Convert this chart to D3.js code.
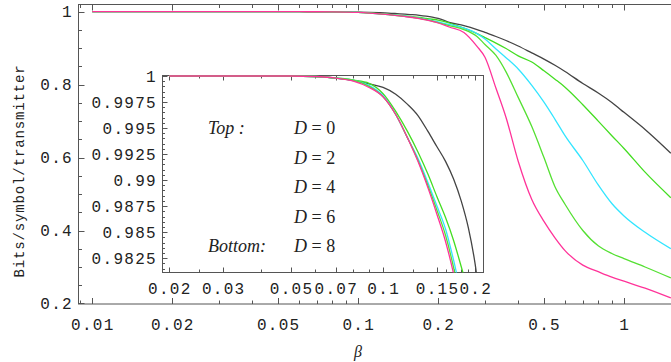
<!DOCTYPE html>
<html>
<head>
<meta charset="utf-8">
<script src="https://cdn.jsdelivr.net/npm/d3@7"></script>
<style>
  body { margin: 0; background: #fff; }
  svg { display: block; }
  .tick-label { font-family: "Liberation Mono", monospace; font-size: 16px; letter-spacing: 1.3px; fill: #222; }
  .legend { font-family: "Liberation Serif", serif; font-size: 18px; fill: #222; }
</style>
</head>
<body>
<div id="chart"></div>
<script>
// beta values where the curves were sampled
const beta = [0.01, 0.02, 0.03, 0.04, 0.05, 0.06, 0.07, 0.08, 0.09, 0.1,
  0.11, 0.12, 0.13, 0.14, 0.15, 0.16, 0.17, 0.18, 0.19, 0.2,
  0.22, 0.25, 0.28, 0.3, 0.33, 0.36, 0.4, 0.45, 0.5, 0.55,
  0.6, 0.7, 0.8, 0.9, 1.0, 1.2, 1.5]

// bits/symbol/transmitter for each D
const d0 = [1, 1, 1, 1, 1, 0.99995, 0.9998, 0.99955, 0.99925, 0.9989,
  0.99825, 0.9973, 0.9962, 0.9947, 0.9932, 0.9918, 0.9901, 0.988, 0.9854, 0.9819,
  0.971, 0.962, 0.951, 0.943, 0.932, 0.921, 0.906, 0.887, 0.87, 0.853,
  0.836, 0.803, 0.777, 0.751, 0.724, 0.677, 0.612]
const d2 = [1, 1, 1, 1, 1, 0.99995, 0.9998, 0.9996, 0.9993, 0.9983,
  0.9966, 0.9947, 0.9927, 0.9906, 0.9884, 0.9864, 0.9842, 0.9817, 0.9793, 0.9769,
  0.969, 0.955, 0.94, 0.929, 0.914, 0.899, 0.879, 0.862, 0.838, 0.815,
  0.793, 0.745, 0.7, 0.66, 0.625, 0.56, 0.49]
const d4 = [1, 1, 1, 1, 1, 0.99995, 0.9998, 0.9996, 0.9991, 0.9981,
  0.9963, 0.9941, 0.9921, 0.9898, 0.9875, 0.9853, 0.9823, 0.979, 0.9758, 0.9722,
  0.965, 0.955, 0.94, 0.925, 0.898, 0.874, 0.843, 0.798, 0.752, 0.705,
  0.66, 0.592, 0.525, 0.474, 0.44, 0.395, 0.35]
const d6 = [1, 1, 1, 1, 1, 0.99995, 0.9998, 0.9996, 0.999, 0.998,
  0.9963, 0.9941, 0.9919, 0.9895, 0.9871, 0.9847, 0.9816, 0.978, 0.9745, 0.97,
  0.962, 0.951, 0.932, 0.91, 0.88, 0.835, 0.765, 0.685, 0.6, 0.52,
  0.472, 0.4, 0.358, 0.337, 0.323, 0.3, 0.27]
const d8 = [1, 1, 1, 1, 1, 0.99995, 0.9998, 0.9995, 0.9989, 0.998,
  0.9963, 0.9941, 0.9918, 0.9893, 0.9867, 0.9841, 0.981, 0.9775, 0.9735, 0.969,
  0.958, 0.943, 0.905, 0.875, 0.79, 0.71, 0.59, 0.485, 0.425, 0.38,
  0.345, 0.305, 0.287, 0.272, 0.261, 0.242, 0.215]

const seriesNames = ['D0', 'D2', 'D4', 'D6', 'D8']
const seriesValues = [d0, d2, d4, d6, d8]
const colors = ['#444444', '#44dd22', '#33e5ff', '#55e033', '#ff3399']

// ticks
const xMajor = [0.01, 0.02, 0.05, 0.1, 0.2, 0.5, 1]
const xMinor = [0.009, 0.03, 0.04, 0.06, 0.07, 0.08, 0.09, 0.3, 0.4, 0.6, 0.7, 0.8, 0.9]
const yMajor = [0.2, 0.4, 0.6, 0.8, 1]
const insetXMajor = [0.02, 0.03, 0.05, 0.07, 0.1, 0.15, 0.2]
const insetXMinor = [0.025, 0.04, 0.06, 0.08, 0.09, 0.125, 0.16, 0.17, 0.18, 0.19]
const insetYMajor = [0.9825, 0.985, 0.9875, 0.99, 0.9925, 0.995, 0.9975, 1]
const legendLabels = ['D = 0', 'D = 2', 'D = 4', 'D = 6', 'D = 8']

const width = 671
const height = 362

const svg = d3.select('#chart').append('svg')
  .attr('width', width)
  .attr('height', height)

// main scales
const x = d3.scaleLog().domain([0.00888, 1.624]).range([78.5, 680])
const y = d3.scaleLinear().domain([0.1985, 1.0211]).range([304, 4])

// inset scales
const xi = d3.scaleLog().domain([0.01902, 0.2129]).range([162.5, 483.5])
const yi = d3.scaleLinear().domain([0.98112, 1]).range([272.5, 76])

const frameColor = '#555'

svg.append('clipPath').attr('id', 'mainClip')
  .append('rect').attr('x', 78.5).attr('y', 4).attr('width', 680 - 78.5).attr('height', 300)
svg.append('clipPath').attr('id', 'insetClip')
  .append('rect').attr('x', 162.5).attr('y', 75).attr('width', 321).attr('height', 197.5)

// main frame
svg.append('rect')
  .attr('x', 78.5).attr('y', 4.5)
  .attr('width', 700).attr('height', 299.5)
  .attr('fill', 'none').attr('stroke', frameColor)

function drawTicks(g, scale, vals, len, orient, pos) {
  vals.forEach(v => {
    const p = Math.round(scale(v)) + 0.5
    if (orient === 'bottom') g.append('line').attr('x1', p).attr('x2', p).attr('y1', pos).attr('y2', pos - len)
    if (orient === 'top') g.append('line').attr('x1', p).attr('x2', p).attr('y1', pos).attr('y2', pos + len)
    if (orient === 'left') g.append('line').attr('y1', p).attr('y2', p).attr('x1', pos).attr('x2', pos + len)
  })
}

const ticks = svg.append('g').attr('stroke', frameColor).attr('stroke-width', 1)
drawTicks(ticks, x, xMajor, 6, 'bottom', 304)
drawTicks(ticks, x, xMinor, 3.5, 'bottom', 304)
drawTicks(ticks, x, xMajor, 6, 'top', 4.5)
drawTicks(ticks, x, xMinor, 3.5, 'top', 4.5)
drawTicks(ticks, y, yMajor, 6, 'left', 78.5)
drawTicks(ticks, y, d3.range(0.25, 1, 0.05).filter(v => Math.abs(v * 5 - Math.round(v * 5)) > 0.01), 3.5, 'left', 78.5)

// main tick labels
svg.append('g').selectAll('text').data(xMajor).enter().append('text')
  .attr('class', 'tick-label')
  .attr('x', d => x(d) + 0.65)
  .attr('y', 326)
  .attr('text-anchor', 'middle')
  .attr('dominant-baseline', 'central')
  .text(d => d)

svg.append('g').selectAll('text').data(yMajor).enter().append('text')
  .attr('class', 'tick-label')
  .attr('x', 73)
  .attr('y', d => y(d) + 1.5)
  .attr('text-anchor', 'end')
  .attr('dominant-baseline', 'central')
  .text(d => d)

// axis titles
svg.append('text')
  .attr('transform', 'translate(20,171) rotate(-90)')
  .attr('text-anchor', 'middle')
  .attr('dominant-baseline', 'central')
  .style('font-family', '"Liberation Mono", monospace')
  .style('font-size', '14px')
  .style('letter-spacing', '0.85px')
  .style('fill', '#222')
  .text('Bits/symbol/transmitter')

svg.append('text')
  .attr('x', 358).attr('y', 351)
  .attr('text-anchor', 'middle')
  .attr('dominant-baseline', 'central')
  .style('font-family', '"Liberation Serif", serif')
  .style('font-style', 'italic')
  .style('font-size', '16px')
  .style('fill', '#222')
  .text('β')

// main curves
const line = d3.line()
  .x(d => x(d[0]))
  .y(d => y(d[1]))
  .curve(d3.curveMonotoneX)

const mainCurves = svg.append('g').attr('clip-path', 'url(#mainClip)')
seriesValues.forEach((vals, i) => {
  mainCurves.append('path')
    .datum(beta.map((b, j) => [b, vals[j]]))
    .attr('d', line)
    .attr('fill', 'none')
    .attr('stroke', colors[i])
    .attr('stroke-width', 1.3)
})

// inset box
svg.append('rect')
  .attr('x', 162.5).attr('y', 75.5)
  .attr('width', 321).attr('height', 197)
  .attr('fill', '#fff').attr('stroke', frameColor)

const iticks = svg.append('g').attr('stroke', frameColor).attr('stroke-width', 1)
drawTicks(iticks, xi, insetXMajor, 5, 'bottom', 272.5)
drawTicks(iticks, xi, insetXMinor, 3, 'bottom', 272.5)
drawTicks(iticks, xi, insetXMajor, 5, 'top', 75.5)
drawTicks(iticks, xi, insetXMinor, 3, 'top', 75.5)
drawTicks(iticks, yi, insetYMajor, 5, 'left', 162.5)
drawTicks(iticks, yi, d3.range(0.9815, 1, 0.0005), 2.5, 'left', 162.5)

svg.append('g').selectAll('text').data(insetXMajor).enter().append('text')
  .attr('class', 'tick-label')
  .attr('x', d => xi(d) + 0.65)
  .attr('y', 290)
  .attr('text-anchor', 'middle')
  .attr('dominant-baseline', 'central')
  .text(d => d)

svg.append('g').selectAll('text').data(insetYMajor).enter().append('text')
  .attr('class', 'tick-label')
  .attr('x', 157)
  .attr('y', d => yi(d) + 1.5)
  .attr('text-anchor', 'end')
  .attr('dominant-baseline', 'central')
  .text(d => d)

// legend text inside inset
const legendY = d3.scaleLinear().domain([0, 4]).range([128, 246])
svg.append('g').selectAll('text').data(legendLabels).enter().append('text')
  .attr('class', 'legend')
  .attr('x', 294)
  .attr('y', (d, i) => legendY(i))
  .attr('dominant-baseline', 'central')
  .each(function (d) {
    const t = d3.select(this)
    t.append('tspan').style('font-style', 'italic').text('D')
    t.append('tspan').text(d.slice(1))
  })
svg.append('text').attr('class', 'legend')
  .attr('x', 208).attr('y', legendY(0))
  .attr('dominant-baseline', 'central')
  .style('font-style', 'italic')
  .text('Top :')
svg.append('text').attr('class', 'legend')
  .attr('x', 208).attr('y', legendY(4))
  .attr('dominant-baseline', 'central')
  .style('font-style', 'italic')
  .text('Bottom:')

// inset curves (beta >= 0.02 only)
const iline = d3.line()
  .x(d => xi(d[0]))
  .y(d => yi(d[1]))
  .curve(d3.curveMonotoneX)

const insetCurves = svg.append('g').attr('clip-path', 'url(#insetClip)')
seriesValues.forEach((vals, i) => {
  insetCurves.append('path')
    .datum(beta.map((b, j) => [b, vals[j]]).filter(d => d[0] >= 0.02))
    .attr('d', iline)
    .attr('fill', 'none')
    .attr('stroke', colors[i])
    .attr('stroke-width', 1.3)
})
</script>
</body>
</html>
